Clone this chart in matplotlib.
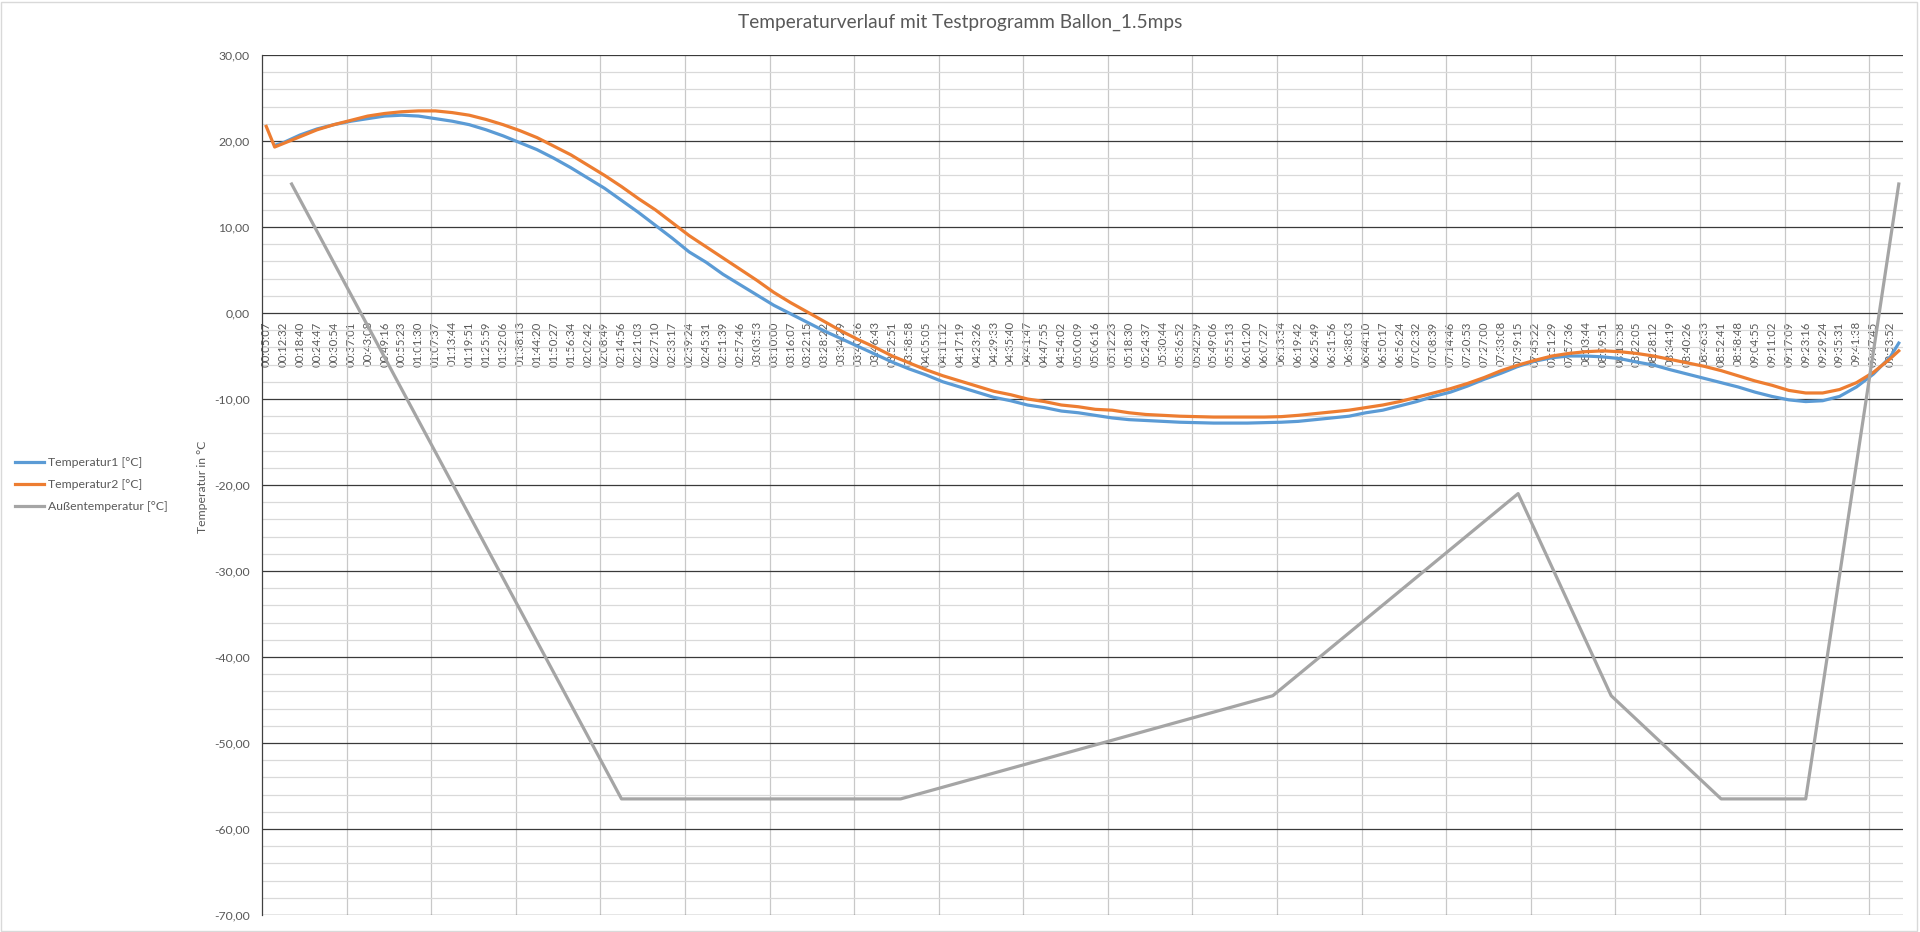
import numpy as np
import matplotlib
matplotlib.use("Agg")
from matplotlib import pyplot as plt
from matplotlib.ticker import MultipleLocator, FixedLocator, FuncFormatter
from matplotlib.patches import Rectangle

plt.rcParams['font.family'] = ['Lato', 'DejaVu Sans']

# x axis labels, one label every 2nd measurement
time_labels = [
    "00:05:07", "00:12:32", "00:18:40", "00:24:47", "00:30:54", "00:37:01", "00:43:08", "00:49:16",
    "00:55:23", "01:01:30", "01:07:37", "01:13:44", "01:19:51", "01:25:59", "01:32:06", "01:38:13",
    "01:44:20", "01:50:27", "01:56:34", "02:02:42", "02:08:49", "02:14:56", "02:21:03", "02:27:10",
    "02:33:17", "02:39:24", "02:45:31", "02:51:39", "02:57:46", "03:03:53", "03:10:00", "03:16:07",
    "03:22:15", "03:28:22", "03:34:29", "03:40:36", "03:46:43", "03:52:51", "03:58:58", "04:05:05",
    "04:11:12", "04:17:19", "04:23:26", "04:29:33", "04:35:40", "04:41:47", "04:47:55", "04:54:02",
    "05:00:09", "05:06:16", "05:12:23", "05:18:30", "05:24:37", "05:30:44", "05:36:52", "05:42:59",
    "05:49:06", "05:55:13", "06:01:20", "06:07:27", "06:13:34", "06:19:42", "06:25:49", "06:31:56",
    "06:38:03", "06:44:10", "06:50:17", "06:56:24", "07:02:32", "07:08:39", "07:14:46", "07:20:53",
    "07:27:00", "07:33:08", "07:39:15", "07:45:22", "07:51:29", "07:57:36", "08:03:44", "08:09:51",
    "08:15:58", "08:22:05", "08:28:12", "08:34:19", "08:40:26", "08:46:33", "08:52:41", "08:58:48",
    "09:04:55", "09:11:02", "09:17:09", "09:23:16", "09:29:24", "09:35:31", "09:41:38", "09:47:45",
    "09:53:52",
]
n_cat = 194  # measurement rows (categories)

# category index of the read values: 0, 1, then every labelled row, then the last row
read_idx = [0, 1] + list(range(2, 193, 2)) + [193]

temp1 = [
    np.nan, 19.5,
    19.8, 20.7, 21.4, 21.9, 22.3, 22.6, 22.9, 23.0, 22.9, 22.6,
    22.3, 21.9, 21.3, 20.6, 19.8, 19.0, 18.0, 16.9, 15.7, 14.5,
    13.1, 11.7, 10.2, 8.7, 7.1, 5.9, 4.5, 3.3, 2.1, 0.9,
    -0.1, -1.1, -2.1, -3.0, -3.9, -4.8, -5.7, -6.5, -7.2, -8.0,
    -8.6, -9.2, -9.8, -10.2, -10.7, -11.0, -11.4, -11.6, -11.9, -12.2,
    -12.4, -12.5, -12.6, -12.7, -12.75, -12.8, -12.8, -12.8, -12.75, -12.7,
    -12.6, -12.4, -12.2, -12.0, -11.6, -11.3, -10.8, -10.3, -9.7, -9.2,
    -8.5, -7.7, -7.0, -6.2, -5.6, -5.2, -5.0, -5.0, -5.1, -5.3,
    -5.7, -6.05, -6.6, -7.1, -7.6, -8.1, -8.6, -9.2, -9.7, -10.1,
    -10.3, -10.2, -9.7, -8.6, -7.1, -5.1,
    -3.5,
]

temp2 = [
    21.7, 19.3,
    19.7, 20.5, 21.3, 21.9, 22.4, 22.9, 23.2, 23.4, 23.5, 23.5,
    23.3, 23.0, 22.5, 21.9, 21.2, 20.4, 19.4, 18.4, 17.2, 16.0,
    14.7, 13.3, 12.0, 10.5, 9.0, 7.7, 6.4, 5.1, 3.8, 2.4,
    1.2, 0.1, -1.0, -2.1, -3.1, -4.0, -5.0, -5.8, -6.6, -7.3,
    -7.9, -8.5, -9.1, -9.5, -10.0, -10.3, -10.7, -10.9, -11.2, -11.3,
    -11.6, -11.8, -11.9, -12.0, -12.05, -12.1, -12.1, -12.1, -12.1, -12.05,
    -11.9, -11.7, -11.5, -11.3, -11.0, -10.7, -10.3, -9.8, -9.3, -8.8,
    -8.2, -7.5, -6.7, -6.05, -5.5, -5.0, -4.7, -4.5, -4.4, -4.5,
    -4.7, -5.0, -5.4, -5.8, -6.2, -6.7, -7.3, -7.9, -8.4, -9.0,
    -9.3, -9.3, -8.9, -8.1, -6.9, -5.3,
    -4.4,
]

# outside temperature given only at its corner points
outside_idx = [3, 42, 75, 119, 148, 159, 172, 182, 193]
outside_temp = [15.0, -56.5, -56.5, -44.5, -21.0, -44.5, -56.5, -56.5, 15.0]

series_names = ["Temperatur1 [°C]", "Temperatur2 [°C]", "Außentemperatur [°C]"]
colors = ["#5B9BD5", "#ED7D31", "#A5A5A5"]
text_col = "#595959"

fig = plt.figure(figsize=(19.2, 9.32), dpi=100)
ax = fig.add_axes([262 / 1920, 17 / 932, 1641 / 1920, 860 / 932])

l1, = ax.plot(read_idx, temp1, color=colors[0], lw=2.3, zorder=3, solid_joinstyle='round')
l2, = ax.plot(read_idx, temp2, color=colors[1], lw=2.3, zorder=3, solid_joinstyle='round')
l3, = ax.plot(outside_idx, outside_temp, color=colors[2], lw=2.3, zorder=3, solid_joinstyle='round')

ax.set_xlim(-0.5, n_cat - 0.5)
ax.set_ylim(-70, 30)

# y axis
ax.yaxis.set_major_locator(MultipleLocator(10))
ax.yaxis.set_minor_locator(MultipleLocator(2))
ax.yaxis.set_major_formatter(FuncFormatter(lambda v, p: f"{v:.2f}".replace(".", ",")))
ax.tick_params(axis='y', which='both', length=0, pad=9, labelsize=8.8, labelcolor=text_col)
ax.yaxis.grid(True, which='major', color='#3a3a3a', lw=0.9)
ax.yaxis.grid(True, which='minor', color='#d9d9d9', lw=0.9)

# x axis: labels sit on the 0 line
ax.xaxis.set_major_locator(FixedLocator(range(0, n_cat, 2)))
ax.set_xticklabels(time_labels)
ax.xaxis.set_minor_locator(FixedLocator(np.arange(9.5, n_cat - 1, 10)))
ax.tick_params(axis='x', which='both', length=0, pad=6, labelsize=8.2, labelcolor=text_col,
               labelrotation=90)
ax.xaxis.grid(True, which='minor', color='#c8c8c8', lw=0.9)
ax.spines['bottom'].set_position(('data', 0))
ax.spines['bottom'].set_visible(False)
ax.spines['top'].set_visible(False)
ax.spines['right'].set_visible(False)
ax.spines['left'].set_color('#404040')
ax.spines['left'].set_linewidth(0.9)
ax.set_axisbelow(True)

fig.text(0.5, 1 - 22 / 932, "Temperaturverlauf mit Testprogramm Ballon_1.5mps",
         ha='center', va='center', fontsize=13.8, color=text_col)
fig.text(203 / 1920, 1 - 487 / 932, "Temperatur in °C", rotation=90,
         ha='center', va='center', fontsize=8.8, color=text_col)

leg = fig.legend([l1, l2, l3], series_names, loc='center left',
                 bbox_to_anchor=(4 / 1920, 1 - 485 / 932), frameon=False,
                 fontsize=8.8, handlelength=2.4, handletextpad=0.3, labelspacing=0.9)
for t in leg.get_texts():
    t.set_color(text_col)

fig.patches.append(Rectangle((0.0005, 0.001), 0.998, 0.997, transform=fig.transFigure,
                             fill=False, ec='#d9d9d9', lw=1))

fig.savefig("out.png", dpi=100)
